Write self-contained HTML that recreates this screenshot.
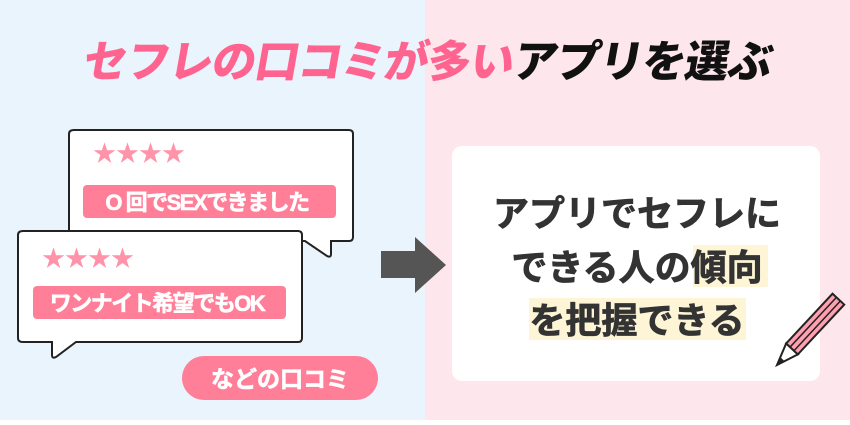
<!DOCTYPE html>
<html><head><meta charset="utf-8"><style>
html,body{margin:0;padding:0;}
body{width:850px;height:420px;overflow:hidden;font-family:"Liberation Sans","Noto Sans CJK JP",sans-serif;}
</style></head><body>
<svg width="850" height="420" viewBox="0 0 850 420" xmlns="http://www.w3.org/2000/svg" font-family="'Liberation Sans','Noto Sans CJK JP',sans-serif">
<rect x="0" y="0" width="425" height="420" fill="#eaf4fd"/>
<rect x="425" y="0" width="425" height="420" fill="#fde6ec"/>
<g transform="translate(425,77) skewX(-10)">
<text x="0" y="0" text-anchor="middle" font-size="44" font-weight="900" fill="#ff6490" letter-spacing="-1"><tspan>セフレの口コミが多い</tspan><tspan fill="#111">アプリを選ぶ</tspan></text>
</g>
<path d="M74 130 H349 Q353 130 353 134 V237 Q353 241 349 241 H331 V254 Q331 258 327 256 L305 241 H74 Q69 241 69 237 V134 Q69 130 74 130 Z" fill="#fff" stroke="#222" stroke-width="2"/>
<text x="93" y="161" font-size="23" fill="#ff93a9" letter-spacing="0">★★★★</text>
<rect x="83" y="185" width="253" height="33" rx="4" fill="#ff7f98"/>
<text x="207" y="210" text-anchor="middle" font-size="22" font-weight="bold" fill="#fff" letter-spacing="-1.5" stroke="#fff" stroke-width="0.6">O 回でSEXできました</text>
<path d="M23 231 H298 Q302 231 302 235 V338 Q302 342 298 342 H76 L56 357 Q52 359 52 355 V342 H23 Q18 342 18 338 V235 Q18 231 23 231 Z" fill="#fff" stroke="#222" stroke-width="2"/>
<text x="42" y="266" font-size="23" fill="#ff93a9" letter-spacing="0">★★★★</text>
<rect x="33" y="286" width="253" height="33" rx="4" fill="#ff7f98"/>
<text x="157" y="311" text-anchor="middle" font-size="22" font-weight="bold" fill="#fff" letter-spacing="-1.5" stroke="#fff" stroke-width="0.6">ワンナイト希望でもOK</text>
<rect x="182" y="356" width="196" height="44" rx="22" fill="#ff7f98"/>
<text x="280" y="387" text-anchor="middle" font-size="23" font-weight="bold" fill="#fff" stroke="#fff" stroke-width="0.6">などの口コミ</text>
<path d="M381 251 H415 V237 L446 265 L415 293 V278 H381 Z" fill="#555"/>
<rect x="452" y="146" width="368" height="235" rx="10" fill="#fff"/>
<rect x="693" y="245" width="75" height="42" fill="#fdf5d5"/>
<rect x="529" y="298" width="217" height="42" fill="#fdf5d5"/>
<g font-size="36" font-weight="bold" fill="#333" text-anchor="middle" stroke="#333" stroke-width="0.8">
<text x="637" y="226">アプリでセフレに</text>
<text x="637" y="280">できる人の傾向</text>
<text x="637" y="333">を把握できる</text>
</g>
<g transform="translate(777,365) rotate(-47)">
<path d="M0 0 L22 -8 V8 Z" fill="#fff" stroke="#222" stroke-width="2"/>
<path d="M0 0 L8 -3 V3 Z" fill="#222"/>
<rect x="22" y="-8" width="68" height="16" fill="#ff9fb0" stroke="#222" stroke-width="2"/>
<line x1="22" y1="-2.7" x2="90" y2="-2.7" stroke="#222" stroke-width="1.5"/>
<line x1="22" y1="2.7" x2="90" y2="2.7" stroke="#222" stroke-width="1.5"/>
</g>
</svg>
</body></html>
